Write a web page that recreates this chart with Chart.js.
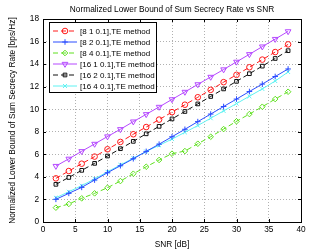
<!DOCTYPE html>
<html>
<head>
<meta charset="utf-8">
<script src="https://cdn.jsdelivr.net/npm/chart.js@4/dist/chart.umd.min.js"></script>
<style>
  html, body { margin: 0; padding: 0; background: #fff; }
  #wrap { width: 332px; height: 250px; }
</style>
</head>
<body>
<div id="wrap"><canvas id="chart" width="332" height="250"></canvas></div>
<script>
const snr = [2, 4, 6, 8, 10, 12, 14, 16, 18, 20, 22, 24, 26, 28, 30, 32, 34, 36, 38];

const te_8_1 = [3.87, 4.52, 5.17, 5.8, 6.45, 7.1, 7.78, 8.42, 9.08, 9.74, 10.4, 11.06, 11.72, 12.4, 13.05, 13.72, 14.4, 15.07, 15.75];
const te_8_2 = [2.01, 2.54, 3.07, 3.72, 4.37, 4.99, 5.61, 6.26, 6.9, 7.56, 8.22, 8.9, 9.57, 10.24, 10.9, 11.57, 12.23, 12.9, 13.57];
const te_8_4 = [1.27, 1.6, 2.1, 2.54, 3.04, 3.63, 4.28, 4.9, 5.5, 6.06, 6.29, 6.94, 7.56, 8.24, 8.93, 9.57, 10.22, 10.9, 11.55];
const te_16_1 = [4.96, 5.6, 6.27, 6.92, 7.58, 8.22, 8.9, 9.55, 10.2, 10.87, 11.53, 12.2, 12.86, 13.52, 14.2, 14.87, 15.55, 16.22, 16.9];
const te_16_2 = [3.34, 3.95, 4.58, 5.2, 5.85, 6.5, 7.15, 7.82, 8.48, 9.14, 9.8, 10.47, 11.13, 11.8, 12.47, 13.15, 13.82, 14.5, 15.19];
const te_16_4 = [2.15, 2.68, 3.22, 3.82, 4.45, 5.06, 5.65, 6.25, 6.8, 7.35, 7.95, 8.55, 9.2, 9.85, 10.5, 11.15, 11.8, 12.5, 13.3];

const seriesLabels = [
    '[8 1 0.1],TE method',
    '[8 2 0.1],TE method',
    '[8 4 0.1],TE method',
    '[16 1 0.1],TE method',
    '[16 2 0.1],TE method',
    '[16 4 0.1],TE method'
];

const xTicks = [0, 5, 10, 15, 20, 25, 30, 35, 40];
const yTicks = [0, 2, 4, 6, 8, 10, 12, 14, 16, 18];

const FONT = '"Liberation Sans", Arial, sans-serif';
const FSIZE = 8.3;

function series(label, values, color, style, dashed, extra = {}) {
    return {
        label,
        data: values.map((v, i) => ({ x: snr[i], y: v })),
        borderColor: color,
        backgroundColor: 'rgba(0,0,0,0)',
        borderWidth: 1,
        borderDash: dashed ? [5, 3] : [],
        pointStyle: style,
        pointRadius: 2.8,
        pointBorderColor: color,
        pointBackgroundColor: 'rgba(0,0,0,0)',
        pointBorderWidth: 1,
        tension: 0,
        ...extra
    };
}

const datasets = [
    series(seriesLabels[0], te_8_1, '#ff1a1a', 'circle', true),
    series(seriesLabels[1], te_8_2, '#2a4dff', 'cross', false),
    series(seriesLabels[2], te_8_4, '#5ee01e', 'rectRot', true),
    series(seriesLabels[3], te_16_1, '#b548ff', 'triangle', false, { pointRotation: 180, pointRadius: 3.3 }),
    series(seriesLabels[4], te_16_2, '#111111', 'rect', true, { pointRadius: 2.6 }),
    series(seriesLabels[5], te_16_4, '#5ff2f2', 'crossRot', false)
];

// frame with inward ticks, title and the legend box inside the axes, MATLAB style
const matlabBits = {
    id: 'matlabBits',
    afterDraw(chart) {
        const { ctx, chartArea: a, scales } = chart;
        ctx.save();

        ctx.strokeStyle = '#000';
        ctx.lineWidth = 1;
        ctx.setLineDash([]);
        ctx.strokeRect(a.left + 0.5, a.top + 0.5, a.right - a.left, a.bottom - a.top);

        ctx.beginPath();
        xTicks.forEach(v => {
            const px = Math.round(scales.x.getPixelForValue(v)) + 0.5;
            ctx.moveTo(px, a.bottom); ctx.lineTo(px, a.bottom - 3);
            ctx.moveTo(px, a.top); ctx.lineTo(px, a.top + 3);
        });
        yTicks.forEach(v => {
            const py = Math.round(scales.y.getPixelForValue(v)) + 0.5;
            ctx.moveTo(a.left, py); ctx.lineTo(a.left + 3, py);
            ctx.moveTo(a.right, py); ctx.lineTo(a.right - 3, py);
        });
        ctx.stroke();

        ctx.fillStyle = '#000';
        ctx.font = FSIZE + 'px ' + FONT;
        ctx.textAlign = 'center';
        ctx.textBaseline = 'middle';
        ctx.fillText('Normalized Lower Bound of Sum Secrecy Rate vs SNR', (a.left + a.right) / 2, 10);

        // legend
        const bx = 49.5, by = 22.5, bw = 107, bh = 70;
        ctx.fillStyle = '#fff';
        ctx.fillRect(bx, by, bw, bh);
        ctx.strokeRect(bx, by, bw, bh);
        ctx.font = '8px ' + FONT;

        chart.data.datasets.forEach((ds, i) => {
            const y = 31 + i * 11;
            ctx.strokeStyle = ds.borderColor;
            ctx.lineWidth = ds.borderWidth;
            ctx.setLineDash(ds.borderDash);
            ctx.beginPath();
            ctx.moveTo(53, y);
            ctx.lineTo(77, y);
            ctx.stroke();
            ctx.setLineDash([]);
            ctx.fillStyle = 'rgba(0,0,0,0)';
            Chart.helpers.drawPoint(ctx, {
                pointStyle: ds.pointStyle,
                radius: ds.pointRadius,
                rotation: ds.pointRotation || 0,
                borderWidth: 1
            }, 65, y);
            ctx.fillStyle = '#000';
            ctx.textAlign = 'left';
            ctx.fillText(ds.label, 80, y + 0.5);
        });

        ctx.restore();
    }
};

new Chart(document.getElementById('chart'), {
    type: 'line',
    data: { datasets },
    plugins: [matlabBits],
    options: {
        responsive: false,
        animation: false,
        devicePixelRatio: 1,
        layout: { padding: { top: 19, right: 31, left: 0, bottom: 0 } },
        plugins: {
            legend: { display: false },
            tooltip: { enabled: false }
        },
        scales: {
            x: {
                type: 'linear',
                min: 0,
                max: 40,
                afterBuildTicks: s => { s.ticks = xTicks.map(v => ({ value: v })); },
                afterFit: s => { s.height = 28; },
                grid: {
                    color: '#b0b0b0',
                    lineWidth: 1,
                    drawTicks: false
                },
                border: { display: false, dash: [1, 2] },
                ticks: {
                    color: '#000',
                    padding: 3,
                    maxRotation: 0,
                    font: { family: FONT, size: FSIZE }
                },
                title: {
                    display: true,
                    text: 'SNR [dB]',
                    color: '#000',
                    padding: { top: 1, bottom: 0 },
                    font: { family: FONT, size: FSIZE }
                }
            },
            y: {
                min: 0,
                max: 18,
                afterBuildTicks: s => { s.ticks = yTicks.map(v => ({ value: v })); },
                afterFit: s => { s.width = 43; },
                grid: {
                    color: '#b0b0b0',
                    lineWidth: 1,
                    drawTicks: false
                },
                border: { display: false, dash: [1, 2] },
                ticks: {
                    color: '#000',
                    padding: 4,
                    font: { family: FONT, size: FSIZE }
                },
                title: {
                    display: true,
                    text: 'Normalized Lower Bound of Sum Secrecy Rate [bps/Hz]',
                    color: '#000',
                    padding: { top: 8, bottom: 0 },
                    font: { family: FONT, size: FSIZE }
                }
            }
        }
    }
});
</script>
</body>
</html>
